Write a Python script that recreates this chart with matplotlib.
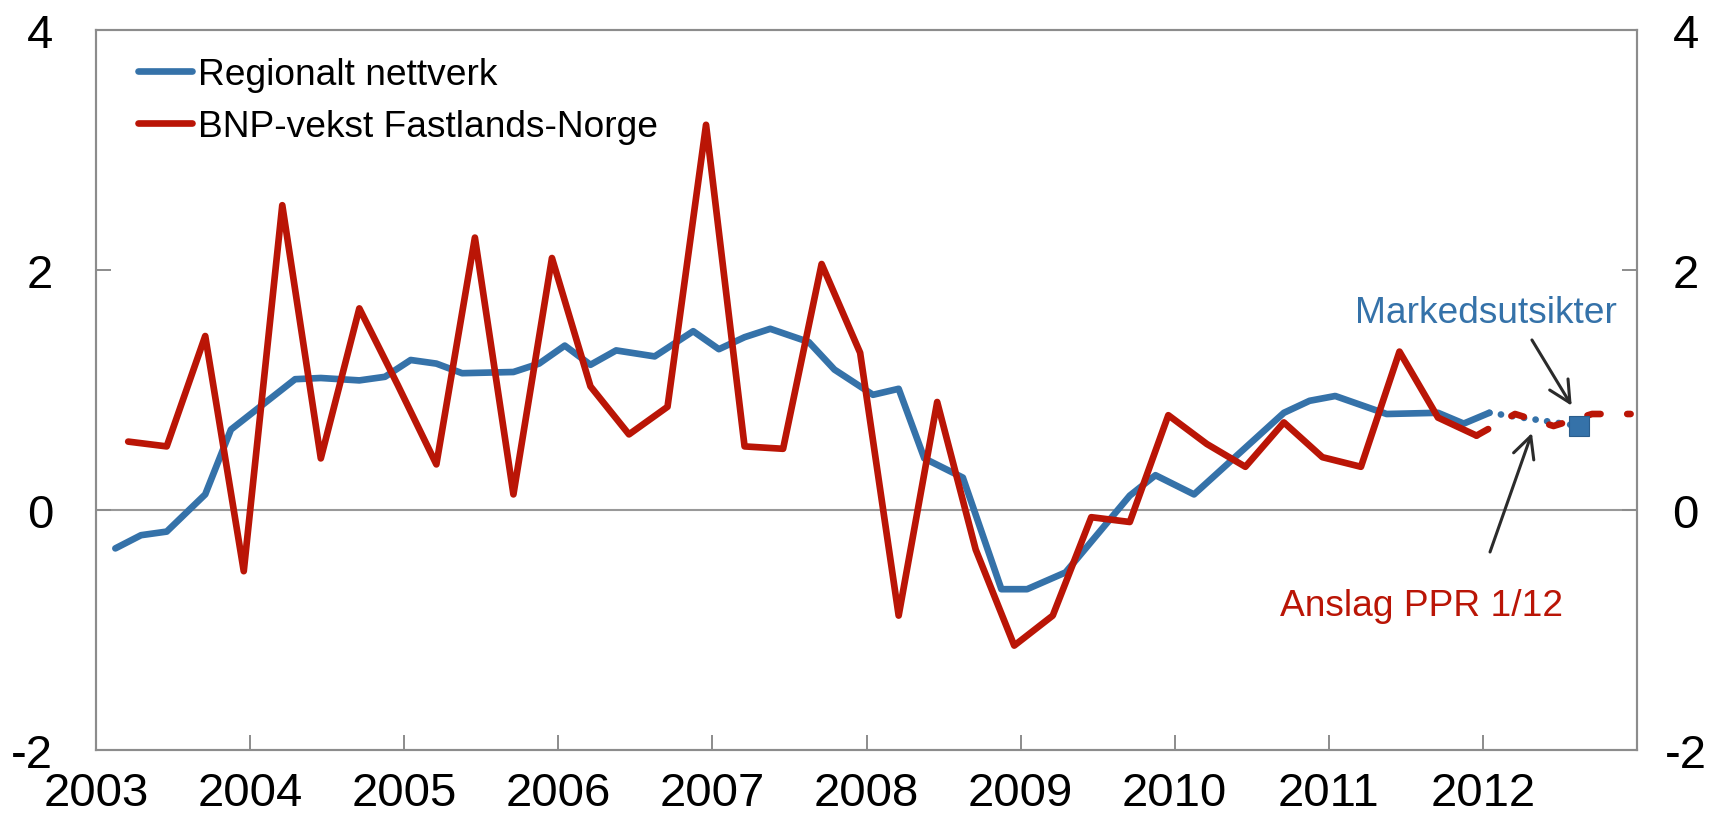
import matplotlib.pyplot as plt

plt.rcParams['font.family'] = ['Liberation Sans', 'DejaVu Sans']
plt.rcParams['lines.scale_dashes'] = False

# GDP growth mainland Norway, quarterly, 2003Q1 - 2011Q4
gdp_first_year = 2003
gdp = [0.57, 0.53, 1.45, -0.51, 2.54, 0.43, 1.68, 1.04,
       0.38, 2.27, 0.13, 2.10, 1.03, 0.63, 0.86, 3.21,
       0.53, 0.51, 2.05, 1.31, -0.88, 0.90, -0.33, -1.13,
       -0.88, -0.06, -0.10, 0.79, 0.55, 0.36, 0.73, 0.44,
       0.36, 1.32, 0.77, 0.62]

# projection PPR 1/12
gdp_fc_months = ['2011-12', '2012-03', '2012-06', '2012-09', '2012-12']
gdp_fc = [0.62, 0.80, 0.70, 0.80, 0.80]

# regional network survey rounds
net_months = ['2003-02', '2003-04', '2003-06', '2003-09', '2003-11',
              '2004-04', '2004-06', '2004-09', '2004-11',
              '2005-01', '2005-03', '2005-05', '2005-09', '2005-11',
              '2006-01', '2006-03', '2006-05', '2006-08', '2006-11',
              '2007-01', '2007-03', '2007-05', '2007-08', '2007-10',
              '2008-01', '2008-03', '2008-05', '2008-08', '2008-11',
              '2009-01', '2009-04', '2009-09', '2009-11',
              '2010-02', '2010-09', '2010-11',
              '2011-01', '2011-05', '2011-09', '2011-11', '2012-01']
net = [-0.32, -0.21, -0.18, 0.13, 0.67,
       1.09, 1.10, 1.08, 1.11,
       1.25, 1.22, 1.14, 1.15, 1.22,
       1.37, 1.21, 1.33, 1.28, 1.49,
       1.34, 1.44, 1.51, 1.40, 1.17,
       0.96, 1.01, 0.43, 0.27, -0.66,
       -0.66, -0.52, 0.12, 0.29,
       0.13, 0.81, 0.91,
       0.95, 0.80, 0.81, 0.72, 0.81]

# market outlook
net_fc_months = ['2012-01', '2012-08']
net_fc = [0.81, 0.70]
market_month = '2012-08'
market_val = 0.70

years = list(range(2003, 2013))

blue = '#3572A9'
red = '#BA1506'
grey = '#8C8C8C'
LW = 4.8


def month_x(s):
    y, m = s.split('-')
    return int(y) + (int(m) - 0.5) / 12


gdp_x = [month_x(f'{gdp_first_year + i // 4}-{3 * (i % 4 + 1):02d}') for i in range(len(gdp))]
net_x = [month_x(s) for s in net_months]

fig = plt.figure(figsize=(17.25, 8.29), dpi=100)
ax = fig.add_axes([0.0557, 0.0941, 0.8933, 0.8685])

ax.axhline(0, color='#999999', lw=1.5, zorder=1)

l1, = ax.plot(net_x, net, color=blue, lw=LW, solid_capstyle='round',
              solid_joinstyle='round', zorder=3, label='Regionalt nettverk')
ax.plot([month_x(s) for s in net_fc_months], net_fc, color=blue, lw=LW,
        linestyle=(0, (0.1, 8.3)), dash_capstyle='round', zorder=3)
l2, = ax.plot(gdp_x, gdp, color=red, lw=LW, solid_capstyle='round',
              solid_joinstyle='round', zorder=4, label='BNP-vekst Fastlands-Norge')
ax.plot([month_x(s) for s in gdp_fc_months], gdp_fc, color=red, lw=LW,
        linestyle=(0, (9.6, 19.2)), dash_capstyle='round', zorder=4)
ax.plot([month_x(market_month)], [market_val], marker='s', ms=15,
        color=blue, mec='#2A5D8C', mew=0.8, zorder=5)

ax.set_xlim(2003, 2013)
ax.set_ylim(-2, 4)
ax.set_xticks(years)
ax.set_xticklabels([str(y) for y in years])
ax.set_yticks([-2, 0, 2, 4])
ax.set_yticklabels(['-2', '0', '2', '4'])
ax.tick_params(axis='x', direction='in', length=11, width=1.4, color=grey,
               labelsize=34, pad=15)
ax.tick_params(axis='y', direction='in', length=11, width=1.4, color=grey,
               labelsize=34, pad=31)

ax2 = ax.twinx()
ax2.set_ylim(-2, 4)
ax2.set_yticks([-2, 0, 2, 4])
ax2.set_yticklabels(['-2', '0', '2', '4'])
ax2.tick_params(axis='y', direction='in', length=11, width=1.4, color=grey,
                labelsize=34, pad=35)
for lbl in ax2.get_yticklabels():
    lbl.set_horizontalalignment('center')

for a in (ax, ax2):
    for sp in a.spines.values():
        sp.set_color(grey)
        sp.set_linewidth(1.5)

ax.legend(handles=[l1, l2], loc='upper left', bbox_to_anchor=(0.0273, 0.962),
          frameon=False, fontsize=26.7, handlelength=1.46, handletextpad=0.16,
          labelspacing=0.46, borderpad=0, borderaxespad=0)

ax.text(2012.02, 1.645, 'Markedsutsikter', color=blue, fontsize=26.7,
        ha='center', va='center', zorder=6)
ax.text(2011.603, -0.80, 'Anslag PPR 1/12', color=red, fontsize=26.7,
        ha='center', va='center', zorder=6)

arrow = dict(arrowstyle='->,head_length=0.7,head_width=0.35', lw=2.2,
             color='#2B2B2B', shrinkA=0, shrinkB=0, mutation_scale=22)
ax.annotate('', xy=(2012.576, 0.869), xytext=(2012.318, 1.417), arrowprops=arrow, zorder=6)
ax.annotate('', xy=(2012.318, 0.642), xytext=(2012.046, -0.35), arrowprops=arrow, zorder=6)

fig.savefig('out.png', dpi=100)
